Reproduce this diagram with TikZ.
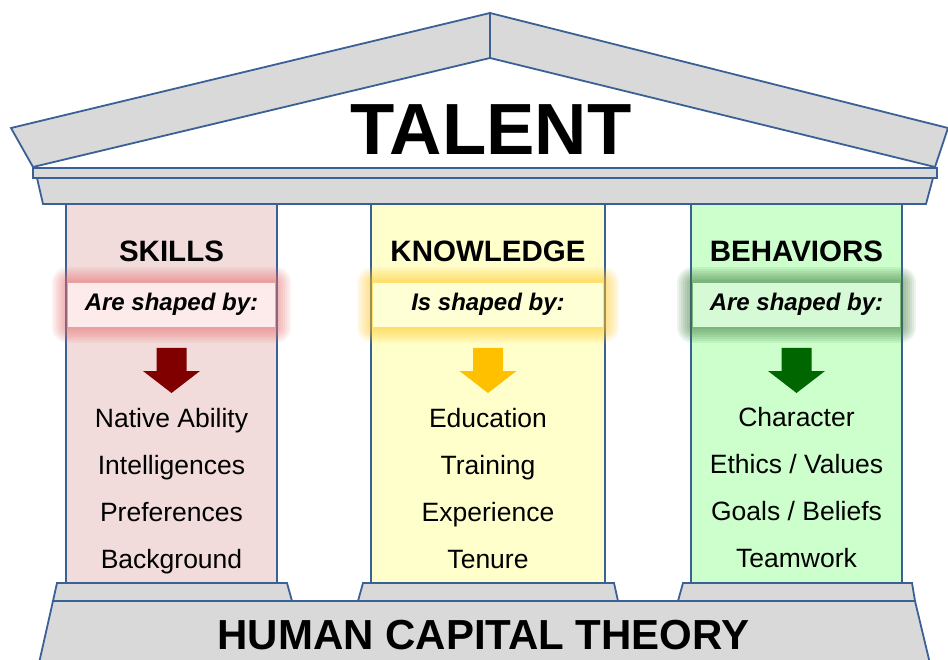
\documentclass[tikz,border=0pt]{standalone}
\usepackage{fontspec}
\setmainfont{Liberation Sans}
\definecolor{edge}{HTML}{3B6096}
\definecolor{stone}{HTML}{D9D9D9}
\definecolor{pinkP}{HTML}{F2DCDB}
\definecolor{yellowP}{HTML}{FFFFCC}
\definecolor{greenP}{HTML}{CCFFCC}
\definecolor{bandR}{HTML}{FDEAEA}
\definecolor{bandY}{HTML}{FFFFD6}
\definecolor{bandG}{HTML}{D6FAD6}
\definecolor{glowR}{HTML}{E66F6F}
\definecolor{glowY}{HTML}{FFC821}
\definecolor{glowG}{HTML}{3A7A3A}
\definecolor{arrR}{HTML}{800000}
\definecolor{arrY}{HTML}{FFC000}
\definecolor{arrG}{HTML}{006600}
\tikzset{
  part/.style={draw=edge, line width=1.8, fill=stone, line join=miter},
  pillar/.style={draw=edge, line width=1.8},
  glowline/.style={line join=round},
  title/.style={font=\bfseries\fontsize{72.5}{72.5}\selectfont, anchor=base, inner sep=0},
  basetext/.style={font=\bfseries\fontsize{42}{42}\selectfont, anchor=base, inner sep=0},
  heading/.style={font=\bfseries\fontsize{29.5}{29.5}\selectfont, anchor=base, inner sep=0},
  shaped/.style={font=\bfseries\itshape\fontsize{24}{24}\selectfont, anchor=base, inner sep=0},
  item/.style={font=\fontsize{26.5}{26.5}\selectfont, anchor=base, inner sep=0},
  bigarrow/.pic={\fill[pic actions] (-15,0) -- (15,0) -- (15,23) -- (28.5,23) -- (0,45) -- (-28.5,23) -- (-15,23) -- cycle;}
}
\begin{document}
\begin{tikzpicture}[x=1pt,y=-1pt]
\clip (0,0) rectangle (948,660);
\fill[white] (0,0) rectangle (948,660);
% roof
\draw[part] (11,128) -- (490,13) -- (490,58) -- (33,167) -- cycle;
\draw[part] (490,13) -- (948,128) -- (935,167) -- (490,58) -- cycle;
% pillars
\draw[pillar, fill=pinkP] (66,200) rectangle (277,583);
\draw[pillar, fill=yellowP] (371,200) rectangle (605,583);
\draw[pillar, fill=greenP] (691,200) rectangle (902,583);
% entablature
\draw[part] (33,168) rectangle (937,178);
\draw[part] (37,178) -- (933,178) -- (926,204) -- (43,204) -- cycle;
% bases
\draw[part] (57,583) -- (287,583) -- (292,601) -- (53,601) -- cycle;
\draw[part] (363,583) -- (614,583) -- (618,601) -- (358,601) -- cycle;
\draw[part] (683,583) -- (912,583) -- (915,601) -- (678,601) -- cycle;
% foundation
\draw[part] (53,601) -- (915,601) -- (932,672) -- (37,672) -- cycle;
% glowing bands
\foreach \w in {32,28,24,20,16,12,8,5} {
  \draw[glowline, line width=\w, draw=glowR, opacity=0.09] (68,283) rectangle (275,327);
  \draw[glowline, line width=\w, draw=glowY, opacity=0.09] (373,283) rectangle (603,327);
  \draw[glowline, line width=\w, draw=glowG, opacity=0.09] (693,283) rectangle (900,327);
}
\fill[bandR] (68,283) rectangle (275,327);
\fill[bandY] (373,283) rectangle (603,327);
\fill[bandG] (693,283) rectangle (900,327);
% arrows
\pic[fill=arrR] at (171.5,348) {bigarrow};
\pic[fill=arrY] at (488,348) {bigarrow};
\pic[fill=arrG] at (796.5,348) {bigarrow};
% texts
\node[title] (talent) at (491,155) {TALENT};
\node[basetext] (hct) at (483.5,649) {HUMAN CAPITAL THEORY};
\node[heading] (h1) at (171.5,262) {SKILLS};
\node[heading] (h2) at (488,262) {KNOWLEDGE};
\node[heading] (h3) at (796.5,262) {BEHAVIORS};
\node[shaped] (s1) at (171.5,311) {Are shaped by:};
\node[shaped] (s2) at (488,311) {Is shaped by:};
\node[shaped] (s3) at (796.5,311) {Are shaped by:};
\node[item] (a1) at (171.5,427) {Native Ability};
\node[item] (a2) at (171.5,474) {Intelligences};
\node[item] (a3) at (171.5,521) {Preferences};
\node[item] (a4) at (171.5,568) {Background};
\node[item] (b1) at (488,427) {Education};
\node[item] (b2) at (488,474) {Training};
\node[item] (b3) at (488,521) {Experience};
\node[item] (b4) at (488,568) {Tenure};
\node[item] (c1) at (796.5,426) {Character};
\node[item] (c2) at (796.5,473) {Ethics / Values};
\node[item] (c3) at (796.5,520) {Goals / Beliefs};
\node[item] (c4) at (796.5,567) {Teamwork};
\end{tikzpicture}
\end{document}
